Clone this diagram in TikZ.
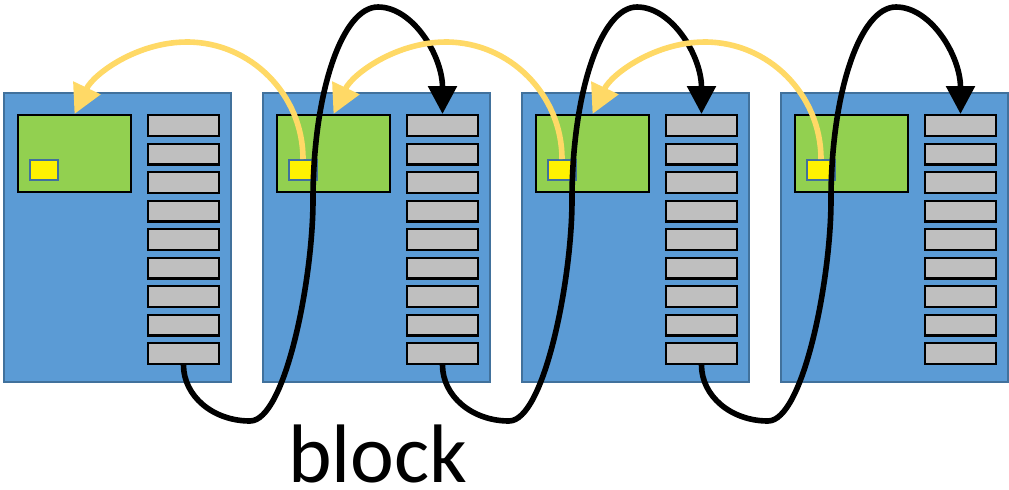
\documentclass[tikz,border=0pt]{standalone}
\usepackage{fontspec}
\setmainfont{Carlito}
\usetikzlibrary{positioning,arrows.meta}

\definecolor{blkblue}{HTML}{5B9BD5}
\definecolor{blkedge}{HTML}{41719C}
\definecolor{hdrgreen}{HTML}{92D050}
\definecolor{slotgray}{HTML}{BFBFBF}
\definecolor{ptryellow}{HTML}{FFD966}

\tikzset{
  blockbox/.style={draw=blkedge, fill=blkblue, line width=0.9pt, inner sep=0pt,
    minimum width=113.6pt, minimum height=144.6pt},
  header/.style={draw, fill=hdrgreen, line width=1.2pt, inner sep=0pt,
    minimum width=56.3pt, minimum height=38.3pt},
  ptr/.style={draw=blkedge, fill=yellow, line width=0.9pt, inner sep=0pt,
    minimum width=14.1pt, minimum height=10.1pt},
  slot/.style={draw, fill=slotgray, line width=1.2pt, inner sep=0pt,
    minimum width=35.3pt, minimum height=10.3pt},
  nextlink/.style={line width=2.8pt, -{Triangle[length=14pt,width=14pt]}},
  prevlink/.style={ptryellow, line width=2.8pt, -{Triangle[length=14.5pt,width=14.5pt]}},
}

\begin{document}
\begin{tikzpicture}[x=0.5pt, y=-0.5pt]
  \useasboundingbox (0,0) rectangle (1009,489);

  % the four blocks
  \foreach \i in {1,...,4}{
    \pgfmathsetmacro\bx{3+259*(\i-1)}
    \node[blockbox] (blk\i) at (\bx+114.5,237.5) {};
    \node[header] (hdr\i) at (\bx+71.5,153.5) {};
    \node[ptr] (ptr\i) at (\bx+41,170) {};
    \node[slot] (slot\i-1) at (\bx+180.5,125.5) {};
    \foreach \k [count=\p] in {2,...,9}
      \node[slot, below=2.75pt of slot\i-\p] (slot\i-\k) {};
  }

  % links between neighbouring blocks
  \foreach \i [evaluate=\i as \j using int(\i+1)] in {1,2,3}{
    \pgfmathsetmacro\nx{3+259*\i}
    \draw[prevlink] (ptr\j.north) .. controls +(0,-64) and +(64,0) .. (\nx-75,42)
      .. controls +(-50,0) and +(19,-40) .. (hdr\i.north);
    \draw[nextlink] (slot\i-9.south) .. controls +(0,31) and +(-37,0) .. (\nx-12,421)
      .. controls +(35,0) and +(0,80) .. (\nx+51,200)
      .. controls +(0,-107) and +(-36,0) .. (\nx+116,7)
      .. controls +(35,0) and +(0,-58) .. (slot\j-1.north);
  }

  \node[font=\fontsize{41.5}{50}\selectfont, anchor=base, inner sep=0pt] (cap) at (378,482) {block};
\end{tikzpicture}
\end{document}
